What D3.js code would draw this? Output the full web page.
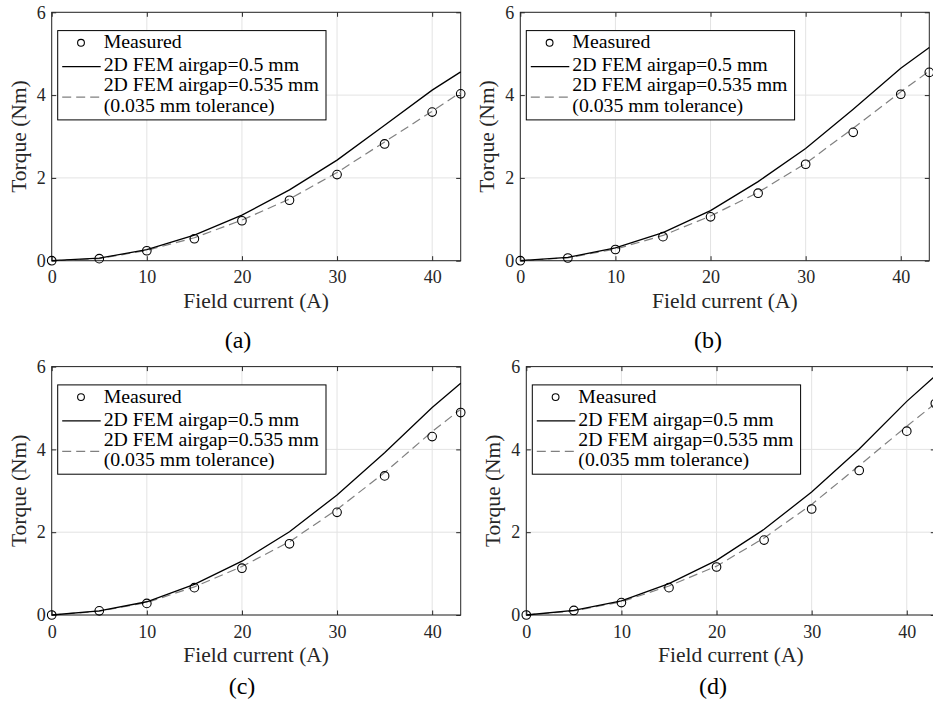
<!DOCTYPE html>
<html>
<head>
<meta charset="utf-8">
<script src="https://cdn.jsdelivr.net/npm/d3@7"></script>
<style>
  html, body { margin: 0; padding: 0; background: #fff; }
  svg { display: block; }
</style>
</head>
<body>
<svg id="chart" width="933" height="711"></svg>
<script>
// ---------------- data ----------------
const current = [0, 5, 10, 15, 20, 25, 30, 35, 40, 43];

const measuredA = [0, 0.05, 0.24, 0.53, 0.965, 1.46, 2.08, 2.82, 3.59, 4.03];
const fem050A   = [0, 0.06, 0.27, 0.62, 1.10, 1.71, 2.43, 3.27, 4.12, 4.56];
const fem0535A  = [0, 0.05, 0.25, 0.555, 0.98, 1.49, 2.13, 2.87, 3.61, 4.07];

const measuredB = [0, 0.065, 0.27, 0.58, 1.06, 1.63, 2.33, 3.10, 4.02, 4.55];
const fem050B   = [0, 0.08, 0.31, 0.68, 1.21, 1.91, 2.71, 3.66, 4.65, 5.15];
const fem0535B  = [0, 0.07, 0.28, 0.61, 1.08, 1.65, 2.35, 3.20, 4.08, 4.58];

const measuredC = [0, 0.10, 0.28, 0.66, 1.13, 1.72, 2.48, 3.36, 4.31, 4.89];
const fem050C   = [0, 0.10, 0.32, 0.74, 1.30, 2.01, 2.90, 3.92, 5.01, 5.60];
const fem0535C  = [0, 0.09, 0.30, 0.68, 1.17, 1.77, 2.55, 3.44, 4.43, 4.97];

const measuredD = [0, 0.11, 0.30, 0.66, 1.16, 1.81, 2.56, 3.49, 4.44, 5.11];
const fem050D   = [0, 0.11, 0.34, 0.76, 1.32, 2.07, 2.97, 4.01, 5.16, 5.78];
const fem0535D  = [0, 0.10, 0.32, 0.70, 1.18, 1.86, 2.67, 3.61, 4.56, 5.11];

const xTicks = [0, 10, 20, 30, 40];
const yTicks = [0, 2, 4, 6];
const xDomain = [0, 43];
const yDomain = [0, 6];

const legendLabels = ["Measured", "2D FEM airgap=0.5 mm", "2D FEM airgap=0.535 mm", "(0.035 mm tolerance)"];
const xLabel = "Field current (A)";
const yLabel = "Torque (Nm)";
const captions = ["(a)", "(b)", "(c)", "(d)"];

// ---------------- layout ----------------
const FONT = "'Liberation Serif'";
const W = 409, H = 248.4;
const panels = [
  { left: 51.7,  top: 12.3,  meas: measuredA, s: fem050A, d: fem0535A, cap: captions[0], capX: 238, capY: 348 },
  { left: 520.3, top: 12.3,  meas: measuredB, s: fem050B, d: fem0535B, cap: captions[1], capX: 708, capY: 348 },
  { left: 51.7,  top: 366.6, meas: measuredC, s: fem050C, d: fem0535C, cap: captions[2], capX: 242, capY: 694 },
  { left: 526.3, top: 366.6, meas: measuredD, s: fem050D, d: fem0535D, cap: captions[3], capX: 713, capY: 694 }
];

const axisColor = "#262626";
const gridColor = "#e3e3e3";
const svg = d3.select("#chart");

panels.forEach(p => {
  const g = svg.append("g").attr("transform", `translate(${p.left},${p.top})`);
  const x = d3.scaleLinear().domain(xDomain).range([0, W]);
  const y = d3.scaleLinear().domain(yDomain).range([H, 0]);

  // grid
  g.append("g").selectAll("line").data(xTicks).join("line")
    .attr("x1", d => x(d)).attr("x2", d => x(d)).attr("y1", 0).attr("y2", H)
    .attr("stroke", gridColor).attr("stroke-width", 1);
  g.append("g").selectAll("line").data(yTicks).join("line")
    .attr("x1", 0).attr("x2", W).attr("y1", d => y(d)).attr("y2", d => y(d))
    .attr("stroke", gridColor).attr("stroke-width", 1);

  // axes
  const styleAxis = sel => {
    sel.attr("font-family", null);
    sel.select(".domain").remove();
    sel.selectAll(".tick line").attr("stroke", axisColor).attr("stroke-width", 1);
    sel.selectAll(".tick text").attr("fill", axisColor).attr("font-size", 18)
      .style("font-family", FONT);
  };
  g.append("g").attr("transform", `translate(0,${H})`)
    .call(d3.axisBottom(x).tickValues(xTicks).tickSizeInner(-4.5).tickSizeOuter(0).tickPadding(10).tickFormat(d3.format("d")))
    .call(styleAxis);
  g.append("g")
    .call(d3.axisLeft(y).tickValues(yTicks).tickSizeInner(-4.5).tickSizeOuter(0).tickPadding(6).tickFormat(d3.format("d")))
    .call(styleAxis);
  g.append("g")
    .call(d3.axisTop(x).tickValues(xTicks).tickSizeInner(-4.5).tickSizeOuter(0).tickFormat(""))
    .call(styleAxis);
  g.append("g").attr("transform", `translate(${W},0)`)
    .call(d3.axisRight(y).tickValues(yTicks).tickSizeInner(-4.5).tickSizeOuter(0).tickFormat(""))
    .call(styleAxis);

  // box
  g.append("rect").attr("x", 0).attr("y", 0).attr("width", W).attr("height", H)
    .attr("fill", "none").attr("stroke", axisColor).attr("stroke-width", 1);

  // lines
  const line = d3.line().x((d, i) => x(current[i])).y(d => y(d));
  g.append("path").datum(p.d).attr("d", line)
    .attr("fill", "none").attr("stroke", "#808080").attr("stroke-width", 1.2)
    .attr("stroke-dasharray", "9,5");
  g.append("path").datum(p.s).attr("d", line)
    .attr("fill", "none").attr("stroke", "#000").attr("stroke-width", 1.3);

  // markers
  g.append("g").selectAll("circle").data(p.meas).join("circle")
    .attr("cx", (d, i) => x(current[i])).attr("cy", d => y(d)).attr("r", 4.3)
    .attr("fill", "none").attr("stroke", "#000").attr("stroke-width", 1.1);

  // axis labels
  g.append("text").attr("x", W / 2).attr("y", H + 47).attr("text-anchor", "middle")
    .style("font-family", FONT).attr("font-size", 21.5).attr("fill", axisColor).text(xLabel);
  g.append("text").attr("transform", `translate(-26,${H / 2}) rotate(-90)`).attr("text-anchor", "middle")
    .style("font-family", FONT).attr("font-size", 21.5).attr("fill", axisColor).text(yLabel);

  // legend
  const lg = g.append("g").attr("transform", "translate(6,18.3)");
  lg.append("rect").attr("width", 268.3).attr("height", 89.3)
    .attr("fill", "#fff").attr("stroke", "#000").attr("stroke-width", 1);
  lg.append("circle").attr("cx", 23.3).attr("cy", 12.2).attr("r", 3.4)
    .attr("fill", "none").attr("stroke", "#000").attr("stroke-width", 1.1);
  lg.append("line").attr("x1", 4.5).attr("x2", 43).attr("y1", 36).attr("y2", 36)
    .attr("stroke", "#000").attr("stroke-width", 1.3);
  lg.append("line").attr("x1", 4.5).attr("x2", 43).attr("y1", 66.5).attr("y2", 66.5)
    .attr("stroke", "#808080").attr("stroke-width", 1.2).attr("stroke-dasharray", "9,5");
  const baselines = [17.7, 40.7, 60.7, 81];
  lg.selectAll("text").data(legendLabels).join("text")
    .attr("x", 46).attr("y", (d, i) => baselines[i])
    .style("font-family", FONT).attr("font-size", 19.8).attr("fill", "#000").text(d => d);

  // caption
  svg.append("text").attr("x", p.capX).attr("y", p.capY).attr("text-anchor", "middle")
    .style("font-family", FONT).attr("font-size", 24).attr("fill", "#000").text(p.cap);
});
</script>
</body>
</html>
